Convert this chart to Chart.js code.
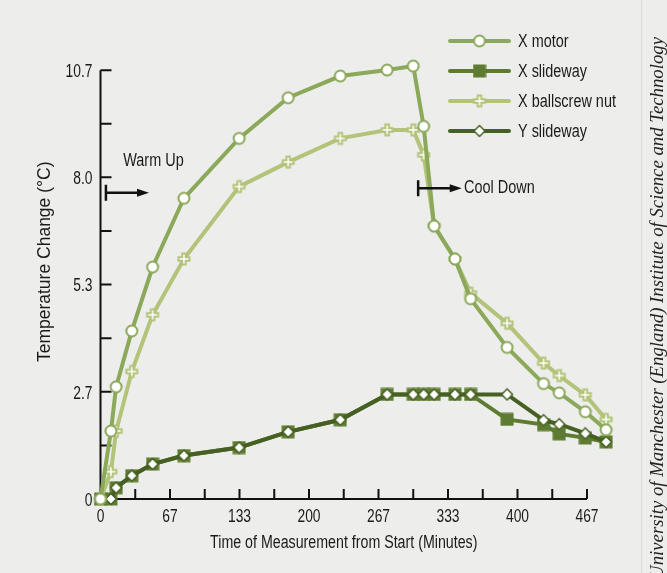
<!DOCTYPE html>
<html>
<head>
<meta charset="utf-8">
<script src="https://cdn.jsdelivr.net/npm/chart.js@4.4.1/dist/chart.umd.min.js"></script>
<style>
  html, body { margin: 0; padding: 0; background: #edeeeb; overflow: hidden; }
  #wrap { position: relative; width: 667px; height: 573px; }
</style>
</head>
<body>
<div id="wrap"><canvas id="tempChart" width="667" height="573"></canvas></div>
<script>
// minutes from start
const times = [0, 10, 15, 30, 50, 80, 133, 180, 230, 275, 300, 310, 320, 340, 355, 390, 425, 440, 465, 485];
const xMotor = [0, 1.69, 2.79, 4.18, 5.77, 7.48, 8.97, 9.98, 10.52, 10.67, 10.77, 9.27, 6.79, 5.97, 4.98, 3.77, 2.87, 2.64, 2.17, 1.72];
const xSlideway = [0, 0, 0.28, 0.58, 0.87, 1.08, 1.28, 1.67, 1.97, 2.6, 2.6, 2.6, 2.6, 2.6, 2.6, 1.98, 1.85, 1.62, 1.52, 1.42];
const xBallscrew = [0, 0.68, 1.69, 3.17, 4.58, 5.97, 7.77, 8.38, 8.97, 9.18, 9.18, 8.56, 6.8, 5.97, 5.12, 4.37, 3.38, 3.07, 2.59, 1.98];
const ySlideway = [0, 0, 0.28, 0.58, 0.87, 1.08, 1.28, 1.67, 1.97, 2.6, 2.6, 2.6, 2.6, 2.6, 2.6, 2.6, 1.96, 1.86, 1.63, 1.42];

const xTickLabels = ['0', '67', '133', '200', '267', '333', '400', '467'];
const yTickLabels = ['0', '2.7', '5.3', '8.0', '10.7'];
const xStep = 200 / 3;   // minutes between labelled ticks
const yStep = 8 / 3;     // degrees between labelled ticks

const xTitle = 'Time of Measurement from Start (Minutes)';
const yTitle = 'Temperature Change (°C)';

const SANS = "'Liberation Sans', Arial, sans-serif";
const SQ = 0.79;   // horizontal squeeze, stands in for a condensed face
const INK = '#1b1b1b';

const colMotor = '#8ba85b';
const colXSlide = '#5d7c31';
const colBall = '#b3c37a';
const colYSlide = '#465f22';

function squeezeText(ctx, txt, x, y, size, align) {
    ctx.save();
    ctx.font = size + 'px ' + SANS;
    ctx.textAlign = align || 'left';
    ctx.textBaseline = 'middle';
    ctx.fillStyle = INK;
    ctx.translate(x, y);
    ctx.scale(SQ, 1);
    ctx.fillText(txt, 0, 0);
    ctx.restore();
}

function makeMarker(size, draw) {
    const c = document.createElement('canvas');
    c.width = size; c.height = size;
    draw(c.getContext('2d'), size / 2);
    return c;
}

const circleMark = makeMarker(16, (g, m) => {
    g.beginPath();
    g.arc(m, m, 5.5, 0, Math.PI * 2);
    g.fillStyle = '#fff';
    g.fill();
    g.lineWidth = 2;
    g.strokeStyle = colMotor;
    g.stroke();
});
const squareMark = makeMarker(14, (g, m) => {
    g.fillStyle = colXSlide;
    g.fillRect(m - 6.5, m - 6.5, 13, 13);
});
const plusMark = makeMarker(16, (g, m) => {
    g.fillStyle = colBall;
    g.fillRect(m - 6.5, m - 2.75, 13, 5.5);
    g.fillRect(m - 2.75, m - 6.5, 5.5, 13);
    g.fillStyle = '#fff';
    g.fillRect(m - 4.5, m - 0.75, 9, 1.5);
    g.fillRect(m - 0.75, m - 4.5, 1.5, 9);
});
const diamondMark = makeMarker(14, (g, m) => {
    g.beginPath();
    g.moveTo(m, m - 5.5);
    g.lineTo(m + 5.5, m);
    g.lineTo(m, m + 5.5);
    g.lineTo(m - 5.5, m);
    g.closePath();
    g.fillStyle = '#fff';
    g.fill();
    g.lineWidth = 1.5;
    g.strokeStyle = colYSlide;
    g.stroke();
});

const pts = vals => times.map((t, i) => ({ x: t, y: vals[i] }));

const series = [
    { label: 'X motor', data: xMotor, color: colMotor, mark: circleMark, order: 0 },
    { label: 'X slideway', data: xSlideway, color: colXSlide, mark: squareMark, order: 3 },
    { label: 'X ballscrew nut', data: xBallscrew, color: colBall, mark: plusMark, order: 2 },
    { label: 'Y slideway', data: ySlideway, color: colYSlide, mark: diamondMark, order: 1 }
];

// arrows + labels, in data units
const notes = [
    { text: 'Warm Up', barX: 5.2, y: 7.62, tipX: 46.5, textX: 21.8, textY: 8.4 },
    { text: 'Cool Down', barX: 304.7, y: 7.73, tipX: 346.5, textX: 348.8, textY: 7.73 }
];

const decor = {
    id: 'decor',
    beforeDraw(chart) {
        const ctx = chart.ctx;
        ctx.save();
        ctx.fillStyle = '#edeeeb';
        ctx.fillRect(0, 0, chart.width, chart.height);
        ctx.fillStyle = '#d9dcd5';
        ctx.fillRect(641, 0, 1, chart.height);
        ctx.restore();
    },
    beforeDatasetsDraw(chart) {
        const { ctx, scales: { x, y } } = chart;
        const x0 = x.getPixelForValue(0), y0 = y.getPixelForValue(0);
        const xEnd = x.getPixelForValue(xStep * (xTickLabels.length - 1));
        const yEnd = y.getPixelForValue(yStep * (yTickLabels.length - 1));
        ctx.save();
        ctx.strokeStyle = '#111';
        ctx.lineWidth = 2;
        ctx.beginPath();
        ctx.moveTo(x0, yEnd);
        ctx.lineTo(x0, y0);
        ctx.lineTo(xEnd, y0);
        for (let i = 1; i <= (yTickLabels.length - 1) * 2; i++) {
            const py = y.getPixelForValue(i * yStep / 2);
            ctx.moveTo(x0, py);
            ctx.lineTo(x0 + 11, py);
        }
        for (let i = 1; i <= (xTickLabels.length - 1) * 2; i++) {
            const px = x.getPixelForValue(i * xStep / 2);
            ctx.moveTo(px, y0);
            ctx.lineTo(px, y0 - 10);
        }
        ctx.stroke();
        ctx.restore();

        // tick labels from the scales' own ticks
        x.ticks.forEach((t, i) => squeezeText(ctx, xTickLabels[i], x.getPixelForValue(t.value), y0 + 18, 17.5, 'center'));
        y.ticks.forEach((t, i) => squeezeText(ctx, yTickLabels[i], x0 - 8, y.getPixelForValue(t.value) + 2, 17.5, 'right'));

        // x title, centred under the drawn axis (data runs past its end)
        squeezeText(ctx, xTitle, (x0 + xEnd) / 2, 543, 18, 'center');
    },
    afterDraw(chart) {
        const { ctx, scales: { x, y } } = chart;

        // legend
        series.forEach((s, i) => {
            const ly = 41 + i * 30;
            ctx.save();
            ctx.strokeStyle = s.color;
            ctx.lineWidth = 4;
            ctx.lineCap = 'round';
            ctx.beginPath();
            ctx.moveTo(450, ly);
            ctx.lineTo(509, ly);
            ctx.stroke();
            ctx.drawImage(s.mark, 479.5 - s.mark.width / 2, ly - s.mark.height / 2);
            ctx.restore();
            squeezeText(ctx, s.label, 518, ly + 1, 18.3, 'left');
        });

        // warm up / cool down arrows
        notes.forEach(n => {
            const bx = x.getPixelForValue(n.barX), by = y.getPixelForValue(n.y);
            const tx = x.getPixelForValue(n.tipX);
            ctx.save();
            ctx.strokeStyle = '#111';
            ctx.fillStyle = '#111';
            ctx.lineWidth = 2.5;
            ctx.beginPath();
            ctx.moveTo(bx, by - 8);
            ctx.lineTo(bx, by + 8);
            ctx.moveTo(bx, by);
            ctx.lineTo(tx - 10, by);
            ctx.stroke();
            ctx.beginPath();
            ctx.moveTo(tx, by);
            ctx.lineTo(tx - 12, by - 4);
            ctx.lineTo(tx - 12, by + 4);
            ctx.closePath();
            ctx.fill();
            ctx.restore();
            squeezeText(ctx, n.text, x.getPixelForValue(n.textX), y.getPixelForValue(n.textY), 18.3, 'left');
        });

        // credit line up the right edge
        const credit = 'University of Manchester (England) Institute of Science and Technology';
        ctx.save();
        ctx.font = 'italic 18px "Liberation Serif", "DejaVu Serif", serif';
        const w = ctx.measureText(credit).width;
        const size = 18 * 542 / w;
        ctx.font = 'italic ' + size.toFixed(2) + 'px "Liberation Serif", "DejaVu Serif", serif';
        ctx.translate(658, 37);
        ctx.rotate(-Math.PI / 2);
        ctx.textAlign = 'right';
        ctx.textBaseline = 'middle';
        ctx.fillStyle = '#222';
        ctx.fillText(credit, 0, 0);
        ctx.restore();
    }
};

Chart.defaults.font.family = SANS;
Chart.defaults.color = INK;

new Chart(document.getElementById('tempChart'), {
    type: 'line',
    data: {
        datasets: series.map(s => ({
            label: s.label,
            data: pts(s.data),
            borderColor: s.color,
            backgroundColor: s.color,
            borderWidth: 4,
            pointStyle: s.mark,
            pointRadius: 6,
            tension: 0,
            clip: false,
            order: s.order
        }))
    },
    options: {
        responsive: false,
        animation: false,
        events: [],
        layout: { padding: { top: 24.6, right: 45.25, left: 0, bottom: 0 } },
        plugins: { legend: { display: false }, tooltip: { enabled: false } },
        scales: {
            x: {
                type: 'linear',
                min: 0,
                max: 500,
                grid: { display: false, drawTicks: false },
                border: { display: false },
                afterBuildTicks: sc => { sc.ticks = xTickLabels.map((_, i) => ({ value: i * xStep })); },
                afterFit: sc => { sc.height = 74; },
                ticks: { display: false }
            },
            y: {
                min: 0,
                max: 11.8,
                grid: { display: false, drawTicks: false },
                border: { display: false },
                afterBuildTicks: sc => { sc.ticks = yTickLabels.map((_, i) => ({ value: i * yStep })); },
                afterFit: sc => { sc.width = 100.5; },
                ticks: { display: false },
                title: {
                    display: true,
                    text: yTitle,
                    font: { size: 17.5 },
                    padding: { top: 34.5, bottom: 0 }
                }
            }
        }
    },
    plugins: [decor]
});
</script>
</body>
</html>
